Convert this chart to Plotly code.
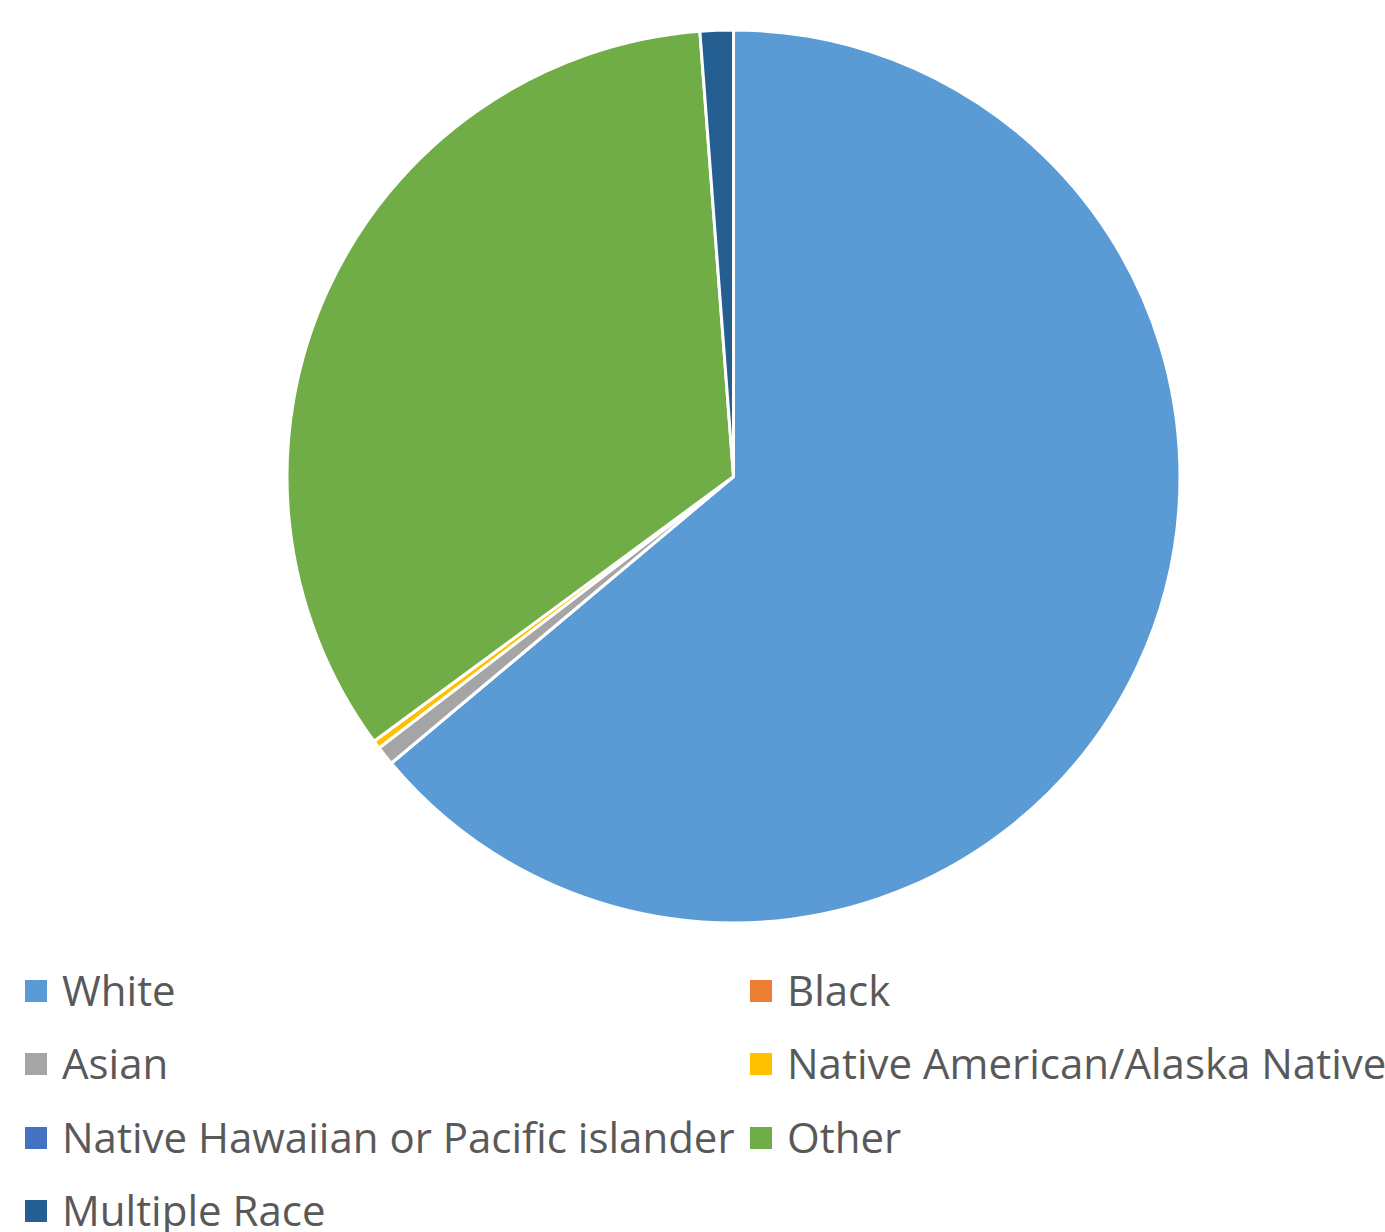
import plotly.graph_objects as go

categories = ["White", "Black", "Asian", "Native American/Alaska Native",
              "Native Hawaiian or Pacific islander", "Other", "Multiple Race"]
values = [63.9, 0.0, 0.7, 0.3, 0.0, 33.9, 1.2]
colors = ["#5B9BD5", "#ED7D31", "#A5A5A5", "#FFC000", "#4472C4", "#70AD47", "#255E91"]

W, H = 1385, 1232

def px_x(x):
    return x / W

def px_y(y):
    return 1 - y / H

fig = go.Figure()
fig.add_trace(go.Pie(
    labels=categories, values=values, sort=False, direction="clockwise",
    rotation=0, textinfo="none", hoverinfo="label+percent",
    marker=dict(colors=colors, line=dict(color="white", width=3)),
    domain=dict(x=[px_x(733.5 - 446.5), px_x(733.5 + 446.5)],
                y=[px_y(923), px_y(30)]),
    showlegend=False,
))

# legend laid out in two columns, rows in reading order
col_x = [25, 750]
row_y = [991, 1064, 1138, 1211]
shapes, annotations = [], []
for i, (cat, col) in enumerate(zip(categories, colors)):
    cx = col_x[i % 2]
    cy = row_y[i // 2]
    shapes.append(dict(type="rect", xref="paper", yref="paper",
                       x0=px_x(cx), x1=px_x(cx + 22), y0=px_y(cy + 11), y1=px_y(cy - 11),
                       fillcolor=col, line=dict(width=0)))
    annotations.append(dict(text=cat, xref="paper", yref="paper",
                            x=px_x(cx + 35), y=px_y(cy - 2), xanchor="left", yanchor="middle",
                            showarrow=False, font=dict(family="Open Sans", size=42, color="#595959")))

fig.update_layout(width=W, height=H, margin=dict(l=0, r=0, t=0, b=0),
                  paper_bgcolor="white", plot_bgcolor="white",
                  shapes=shapes, annotations=annotations)

fig.write_html("out.html", config={"displayModeBar": False},
               post_script="document.body.style.margin='0';document.body.style.overflow='hidden';")
